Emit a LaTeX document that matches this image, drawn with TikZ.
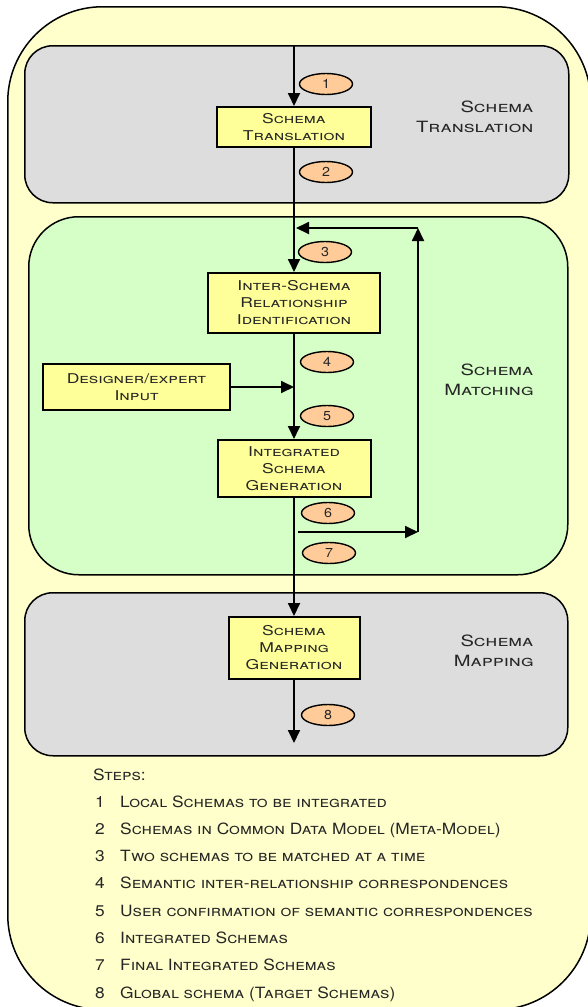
\documentclass[tikz,border=0pt]{standalone}
\usepackage{fontspec}
\setmainfont[FakeStretch=1.3]{TeX Gyre Heros}
\newfontfamily\legendfont[FakeStretch=1.12]{TeX Gyre Heros}
\newfontfamily\digitfont[FakeStretch=1.1]{TeX Gyre Heros}
\usetikzlibrary{shapes.geometric,arrows.meta}
\definecolor{outerfill}{HTML}{FFFFCC}
\definecolor{grayfill}{HTML}{DDDDDD}
\definecolor{greenfill}{HTML}{D5FFC6}
\definecolor{boxfill}{HTML}{FFFF99}
\definecolor{ovalfill}{HTML}{FFCC99}
\definecolor{txt}{HTML}{262626}

\begin{document}
\begin{tikzpicture}[x=1pt,y=-1pt,
  region/.style={draw=black, line width=1.5pt, rounded corners=28pt, anchor=north west, inner sep=0pt},
  procbox/.style={draw=black, line width=2pt, fill=boxfill, inner sep=0pt, align=center,
    font=\fontsize{13.5}{17}\selectfont\scshape, text=txt},
  tag/.style={ellipse, draw=black, line width=1.4pt, fill=ovalfill, minimum width=53pt,
    minimum height=21pt, inner sep=0pt, font=\digitfont\fontsize{13}{13}\selectfont, text=txt},
  phase/.style={anchor=east, align=right, font=\fontsize{15.5}{20}\selectfont\scshape, text=txt},
  steptext/.style={anchor=base west, inner sep=0pt, font=\legendfont\fontsize{15.5}{16}\selectfont\scshape, text=txt},
  flow/.style={line width=1.8pt, -{Triangle[length=13pt,width=12pt]}}]

\useasboundingbox (0,0) rectangle (587,1007);

% outer frame
\node[draw=black, line width=1.5pt, fill=outerfill, rounded corners=95pt, anchor=north west,
  inner sep=0pt, minimum width=583pt, minimum height=1003pt] (frame) at (7,6) {};

% phase regions
\node[region, fill=grayfill, minimum width=544pt, minimum height=157pt] (transl) at (24,45) {};
\node[region, fill=greenfill, rounded corners=50pt, minimum width=539pt, minimum height=358pt] (match) at (28,216) {};
\node[region, fill=grayfill, minimum width=543pt, minimum height=163pt] (mapp) at (24,592) {};

\node[phase] (lt) at (537,117) {Schema\\Translation};
\node[phase] (lm) at (537,380) {Schema\\Matching};
\node[phase] (lp) at (537,651) {Schema\\Mapping};

% process boxes
\node[procbox, minimum width=154pt, minimum height=40pt] (b1) at (294,127) {Schema\\Translation};
\node[procbox, minimum width=172pt, minimum height=60pt] (b2) at (294,303) {Inter-Schema\\Relationship\\Identification};
\node[procbox, minimum width=187pt, minimum height=46pt] (des) at (136.5,387) {Designer/expert\\Input};
\node[procbox, minimum width=153pt, minimum height=57pt] (b3) at (294,468.5) {Integrated\\Schema\\Generation};
\node[procbox, minimum width=131pt, minimum height=62pt] (b4) at (294,648) {Schema\\Mapping\\Generation};

% free ends of the connectors
\coordinate (outend) at (294,743);
\coordinate (loopstart) at (298,532);
\coordinate (loopcorner) at (418,532);
\coordinate (looptop) at (418,228);
\coordinate (rejoin) at (296,228);

% main flow
\draw[flow] (b1.north |- transl.north) -- (b1.north);
\draw[flow] (b1.south) -- (b2.north);
\draw[flow] (b2.south) -- (b3.north);
\draw[flow] (b3.south) -- (b4.north);
\draw[flow] (b4.south) -- (outend);
\draw[flow] (des.east) -- (des.east -| b2.south);

% iteration loop
\draw[flow] (loopstart) -- (loopcorner);
\draw[flow] (loopcorner) -- (looptop);
\draw[flow] (looptop) -- (rejoin);

% step tags
\node[tag] (t1) at (326,84) {1};
\node[tag] (t2) at (326,172) {2};
\node[tag] (t3) at (325,252) {3};
\node[tag] (t4) at (327,362) {4};
\node[tag] (t5) at (327,416) {5};
\node[tag] (t6) at (328,513) {6};
\node[tag] (t7) at (329,553) {7};
\node[tag] (t8) at (328,715) {8};

% legend
\node[steptext] (stepshead) at (93,780) {Steps:};
\foreach \k/\s [count=\i from 0] in {
  1/Local Schemas to be integrated,
  2/Schemas in Common Data Model (Meta-Model),
  3/Two schemas to be matched at a time,
  4/Semantic inter-relationship correspondences,
  5/User confirmation of semantic correspondences,
  6/Integrated Schemas,
  7/Final Integrated Schemas,
  8/Global schema (Target Schemas)} {
  \node[steptext] (n\k) at (95,807+27.3*\i) {\k};
  \node[steptext] (s\k) at (120,807+27.3*\i) {\s};
}
\end{tikzpicture}
\end{document}
